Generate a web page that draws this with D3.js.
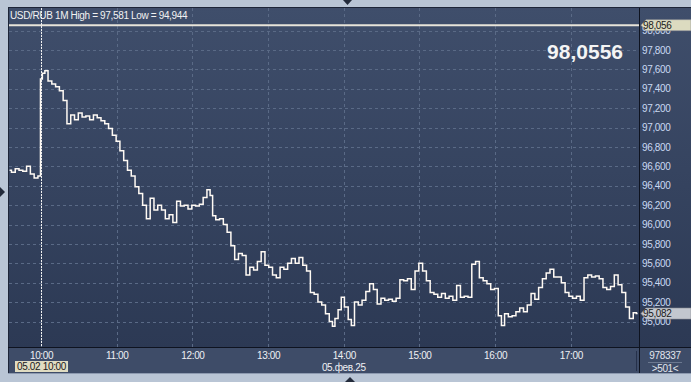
<!DOCTYPE html>
<html>
<head>
<meta charset="utf-8">
<script src="https://cdn.jsdelivr.net/npm/d3@7"></script>
<style>
  body { margin: 0; background: #b9c5d5; }
  svg { display: block; font-family: "Liberation Sans", Arial, sans-serif; }
</style>
</head>
<body>
<svg id="chart" width="691" height="382"></svg>
<script>
// USD/RUB 1 minute, 05.02.25 (3 min readings)
var times = ['09:35','09:38','09:41','09:44','09:47','09:50','09:53','09:56','09:59','10:00',
  '10:02','10:04','10:07','10:10','10:13','10:16','10:19','10:22','10:25','10:28',
  '10:31','10:34','10:37','10:40','10:43','10:46','10:49','10:52','10:55','10:58',
  '11:01','11:04','11:07','11:10','11:13','11:16','11:19','11:22','11:25','11:28',
  '11:31','11:34','11:37','11:40','11:43','11:46','11:49','11:52','11:55','11:58',
  '12:01','12:04','12:07','12:10','12:13','12:15','12:17','12:20','12:23','12:26',
  '12:29','12:32','12:35','12:38','12:41','12:44','12:47','12:50','12:53','12:56',
  '12:59','13:02','13:05','13:08','13:11','13:14','13:17','13:20','13:23','13:26',
  '13:29','13:32','13:35','13:38','13:41','13:44','13:47','13:50','13:52','13:54',
  '13:57','13:59','14:02','14:05','14:07','14:10','14:13','14:16','14:19','14:22',
  '14:25','14:28','14:31','14:34','14:37','14:40','14:43','14:46','14:49','14:52',
  '14:55','14:58','15:01','15:04','15:07','15:10','15:13','15:16','15:19','15:22',
  '15:25','15:28','15:31','15:34','15:37','15:40','15:43','15:46','15:49','15:52',
  '15:55','15:58','16:01','16:04','16:06','16:09','16:12','16:15','16:18','16:21',
  '16:24','16:27','16:30','16:33','16:36','16:39','16:42','16:45','16:48','16:51',
  '16:54','16:57','17:00','17:03','17:06','17:09','17:12','17:15','17:18','17:21',
  '17:24','17:27','17:30','17:33','17:36','17:39','17:42','17:45','17:48','17:51','17:53'];

var prices = [96560,96540,96575,96560,96550,96600,96520,96480,96500,97500,
  97560,97585,97480,97450,97420,97380,97280,97040,97130,97080,
  97150,97110,97120,97080,97130,97100,97070,97040,96990,96920,
  96860,96760,96660,96560,96500,96390,96320,96200,96060,96270,
  96150,96200,96150,96060,96100,96020,96240,96190,96200,96160,
  96200,96190,96210,96280,96360,96300,96090,96050,96060,96000,
  95920,95780,95640,95700,95680,95480,95560,95530,95620,95720,
  95580,95560,95480,95450,95560,95540,95600,95650,95600,95660,
  95580,95520,95300,95280,95200,95170,95080,95000,94950,95030,
  95120,95250,95150,95020,94960,95200,95170,95220,95310,95390,
  95330,95180,95240,95220,95230,95210,95240,95430,95420,95440,
  95330,95520,95600,95520,95420,95300,95280,95250,95290,95240,
  95260,95220,95370,95250,95260,95250,95590,95620,95450,95420,
  95390,95330,95340,95060,94960,95080,95050,95060,95100,95140,
  95100,95170,95290,95230,95350,95440,95500,95540,95460,95460,
  95400,95300,95260,95240,95260,95220,95450,95480,95460,95470,
  95440,95350,95330,95360,95480,95380,95300,95150,95030,95090,95082];

var priceTicks = [95000,95200,95400,95600,95800,96000,96200,96400,96600,96800,97000,97200,97400,97600,97800,98000];
var timeTicks = ['10:00','11:00','12:00','13:00','14:00','15:00','16:00','17:00'];

var title = 'USD/RUB 1M High = 97,581 Low = 94,944';
var lastQuote = '98,0556';
var askLevel = 98056;
var lastPrice = 95082;
var cursorTime = '10:00';
var cursorLabel = '05.02 10:00';
var dayLabel = '05.фев.25';
var barInfo = ['978337', '>501<'];

var svg = d3.select('#chart');
var parse = d3.timeParse('%H:%M');
var fmt = d3.format(',.0f');

var plotL = 9, plotR = 639, plotT = 8, plotB = 347;
var fs = 10, ls = -0.35;   // small text size, letter spacing

var x = d3.scaleTime()
  .domain([parse('09:34'), parse('17:54')])
  .range([plotL - 0.7, plotR - 0.1]);
var y = d3.scaleLinear()
  .domain([95000, 98000])
  .range([321.5, 30.6]);

var defs = svg.append('defs');
var grad = defs.append('linearGradient').attr('id', 'bg').attr('x1', 0).attr('y1', 0).attr('x2', 0).attr('y2', 1);
grad.append('stop').attr('offset', '0%').attr('stop-color', '#3f4e6b');
grad.append('stop').attr('offset', '100%').attr('stop-color', '#2c3954');
defs.append('clipPath').attr('id', 'clip')
  .append('rect').attr('x', plotL).attr('y', plotT).attr('width', plotR - plotL).attr('height', plotB - plotT);

// panel
svg.append('rect').attr('x', 8).attr('y', 7).attr('width', 683).attr('height', 341).attr('fill', 'url(#bg)');
svg.append('rect').attr('x', 8).attr('y', 348).attr('width', 683).attr('height', 25).attr('fill', '#3e4c68');
svg.append('line').attr('x1', 8).attr('x2', 691).attr('y1', 7.5).attr('y2', 7.5).attr('stroke', '#1d2538');
svg.append('line').attr('x1', 8.5).attr('x2', 8.5).attr('y1', 7).attr('y2', 373).attr('stroke', '#1d2538');
svg.append('line').attr('x1', 8).attr('x2', 691).attr('y1', 347.5).attr('y2', 347.5).attr('stroke', '#0e1320');
svg.append('line').attr('x1', plotR + 0.5).attr('x2', plotR + 0.5).attr('y1', 8).attr('y2', 373).attr('stroke', '#0e1320');
svg.append('line').attr('x1', 8).attr('x2', 691).attr('y1', 373.5).attr('y2', 373.5).attr('stroke', '#8d9ab0');

// grid
var plot = svg.append('g').attr('clip-path', 'url(#clip)');
plot.selectAll('.hg').data(priceTicks).enter().append('line')
  .attr('x1', plotL).attr('x2', plotR)
  .attr('y1', function(d) { return Math.round(y(d)) + 0.5; })
  .attr('y2', function(d) { return Math.round(y(d)) + 0.5; })
  .attr('stroke', '#5a6a86').attr('stroke-dasharray', '3,3');
plot.selectAll('.vg').data(timeTicks).enter().append('line')
  .attr('x1', function(d) { return Math.round(x(parse(d))) + 0.5; })
  .attr('x2', function(d) { return Math.round(x(parse(d))) + 0.5; })
  .attr('y1', plotT).attr('y2', plotB)
  .attr('stroke', '#5a6a86').attr('stroke-dasharray', '3,3');

// ask level line
plot.append('line').attr('x1', plotL).attr('x2', plotR)
  .attr('y1', y(askLevel)).attr('y2', y(askLevel))
  .attr('stroke', '#e8e4da').attr('stroke-width', 2);

// cursor
var cx = Math.round(x(parse(cursorTime))) + 0.5;
plot.append('line').attr('x1', cx).attr('x2', cx).attr('y1', plotT).attr('y2', plotB)
  .attr('stroke', '#f0f0f0').attr('stroke-dasharray', '2,1');

// price line
var data = times.map(function(t, i) { return { t: parse(t), v: prices[i] }; });
plot.append('path').datum(data)
  .attr('fill', 'none').attr('stroke', '#fffaf4').attr('stroke-width', 1.5)
  .attr('stroke-linejoin', 'miter')
  .attr('d', d3.line().curve(d3.curveStep)
    .x(function(d) { return x(d.t); })
    .y(function(d) { return y(d.v); }));

// title + big quote
svg.append('text').attr('x', 10).attr('y', 18.5).attr('fill', '#f2f2f2')
  .attr('font-size', fs).attr('letter-spacing', ls).text(title);
svg.append('text').attr('x', 623).attr('y', 59).attr('text-anchor', 'end')
  .attr('fill', '#f4f4f4').attr('font-size', 21).attr('font-weight', 'bold').text(lastQuote);

// right axis
var yAxis = d3.axisRight(y).tickValues(priceTicks).tickSize(0).tickPadding(3).tickFormat(fmt);
var ya = svg.append('g').attr('transform', 'translate(' + plotR + ',0)').call(yAxis);
ya.select('.domain').remove();
ya.selectAll('text').attr('fill', '#c9d9f2').attr('font-size', fs).attr('letter-spacing', ls)
  .attr('font-family', '"Liberation Sans", Arial, sans-serif');

// price tags (drawn over the axis labels, as in the terminal)
function tag(v, fill) {
  var ty = y(v);
  svg.append('path')
    .attr('d', 'M641,' + ty + 'L646,' + (ty - 5.5) + 'L691,' + (ty - 5.5) + 'L691,' + (ty + 5.5) + 'L646,' + (ty + 5.5) + 'Z')
    .attr('fill', fill).attr('stroke', '#8e9095').attr('stroke-width', 0.6);
  svg.append('text').attr('x', 643).attr('y', ty).attr('dy', '0.36em')
    .attr('fill', '#1a1a1a').attr('font-size', fs).attr('letter-spacing', ls).text(fmt(v));
}
tag(askLevel, '#dcdbc0');
tag(lastPrice, '#c3c7cf');

// bottom axis
var xAxis = d3.axisBottom(x).tickValues(timeTicks.map(parse)).tickSize(0).tickPadding(4)
  .tickFormat(d3.timeFormat('%H:%M'));
var xa = svg.append('g').attr('transform', 'translate(0,' + (plotB + 0.5) + ')').call(xAxis);
xa.select('.domain').remove();
xa.selectAll('text').attr('fill', '#eef0f4').attr('font-size', fs).attr('letter-spacing', ls)
  .attr('font-family', '"Liberation Sans", Arial, sans-serif');

svg.append('rect').attr('x', 15).attr('y', 361).attr('width', 53).attr('height', 11).attr('fill', '#e0dcc2');
svg.append('text').attr('x', 41.5).attr('y', 370).attr('text-anchor', 'middle')
  .attr('fill', '#1a1a1a').attr('font-size', fs).attr('letter-spacing', ls).text(cursorLabel);
svg.append('text').attr('x', x(parse('14:00'))).attr('y', 371).attr('text-anchor', 'middle')
  .attr('fill', '#eef0f4').attr('font-size', fs).attr('letter-spacing', ls).text(dayLabel);

svg.append('line').attr('x1', 636.5).attr('x2', 636.5).attr('y1', 351).attr('y2', 371).attr('stroke', '#25304a');
svg.append('text').attr('x', 665).attr('y', 359).attr('text-anchor', 'middle')
  .attr('fill', '#e2e6ee').attr('font-size', fs).attr('letter-spacing', ls).text(barInfo[0]);
svg.append('line').attr('x1', 648).attr('x2', 682).attr('y1', 362.5).attr('y2', 362.5).attr('stroke', '#6b7890');
svg.append('text').attr('x', 665).attr('y', 372).attr('text-anchor', 'middle')
  .attr('fill', '#e2e6ee').attr('font-size', fs).attr('letter-spacing', ls).text(barInfo[1]);

// small navigation arrows
var arrows = [
  'M343,0L352,0L347.5,5Z',
  'M345,382L355,382L350,377Z',
  'M0,187L5,192L0,197Z'
];
svg.selectAll('.arrow').data(arrows).enter().append('path')
  .attr('d', function(d) { return d; }).attr('fill', '#222a3a');
</script>
</body>
</html>
